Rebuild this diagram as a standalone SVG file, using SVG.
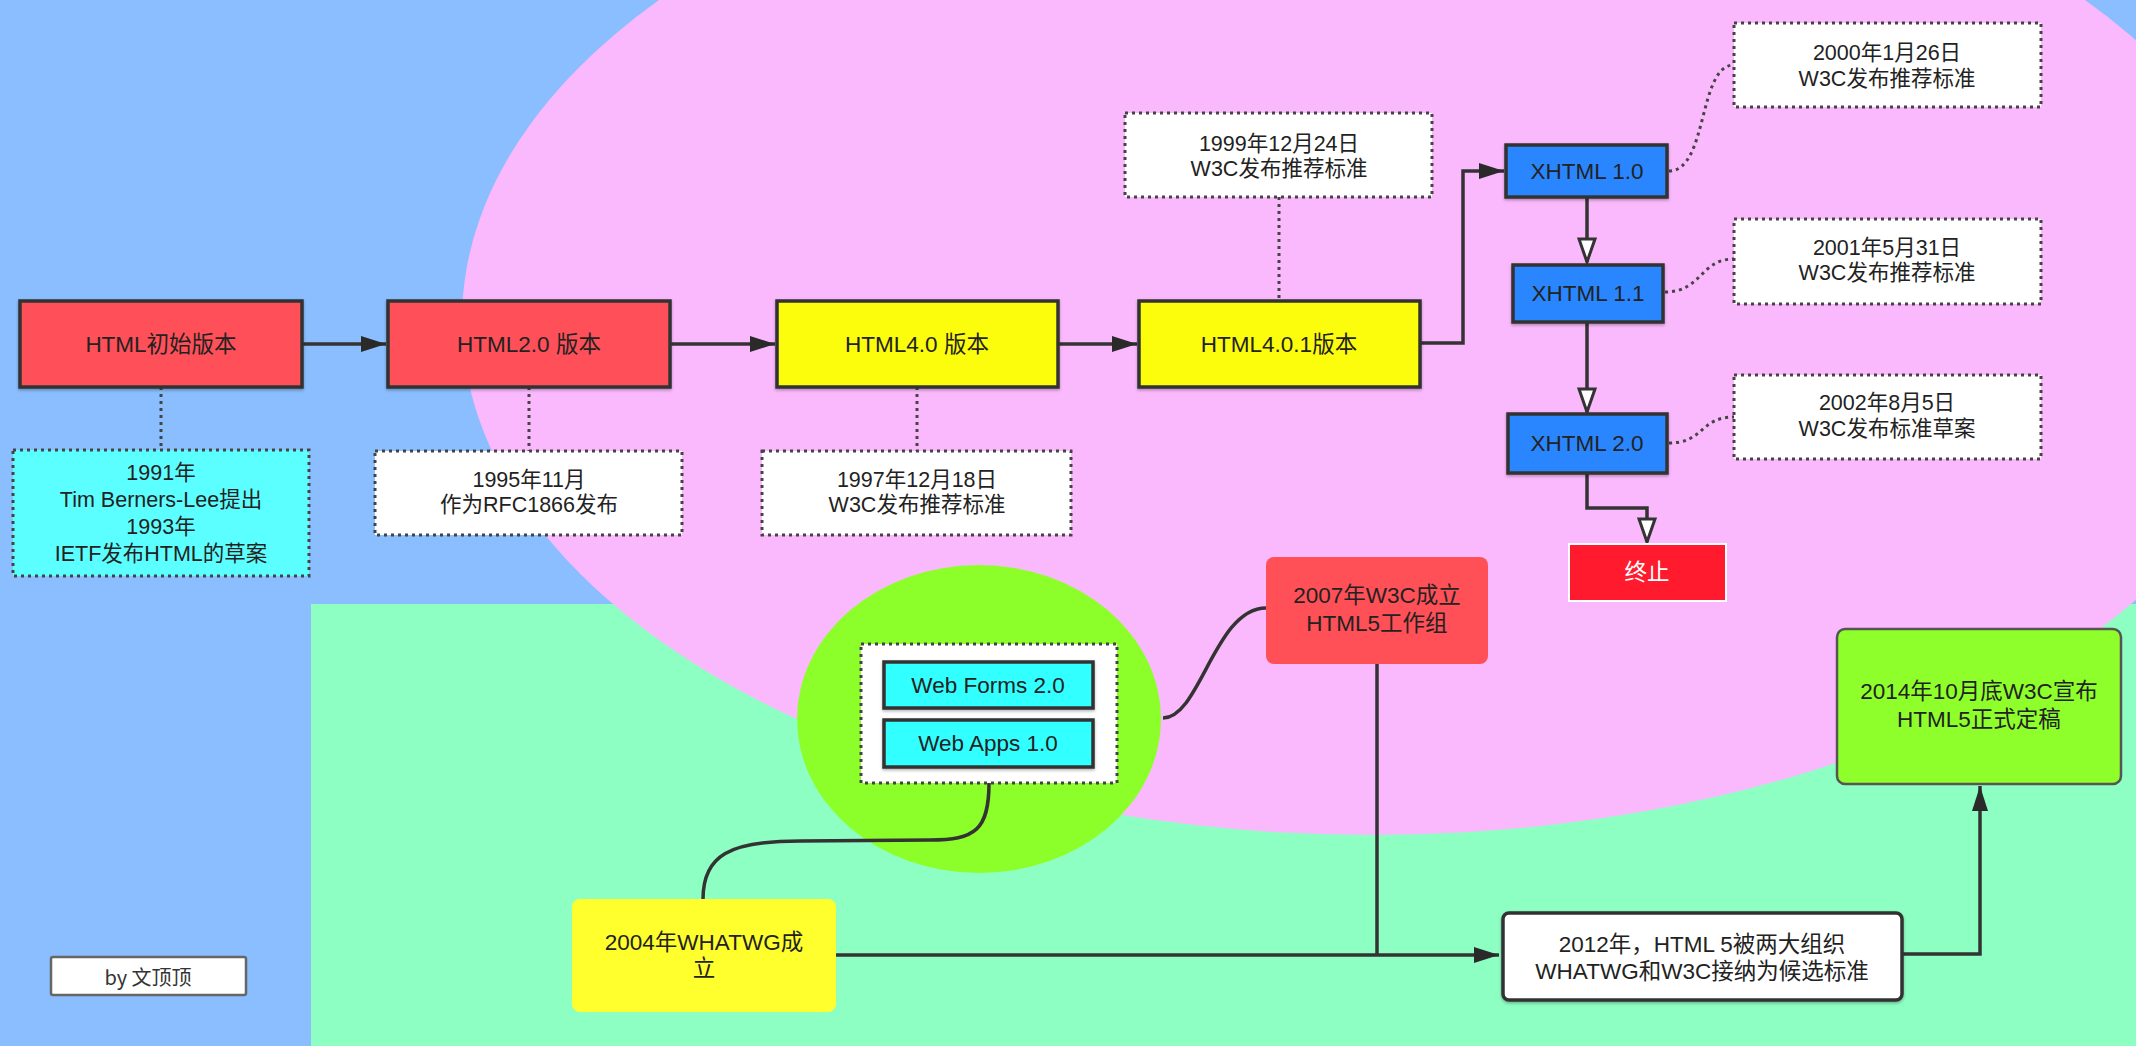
<svg xmlns="http://www.w3.org/2000/svg" width="2136" height="1046" viewBox="0 0 2136 1046">
<defs>
<style>
text{font-family:"Liberation Sans","Noto Sans CJK SC",sans-serif;fill:#222;text-anchor:middle;dominant-baseline:central}
.lbl{font-size:22.5px}
.note-t{font-size:21.5px}
.box{stroke:#333;stroke-width:3.5}
.note{fill:#fff;stroke:#444;stroke-width:3;stroke-dasharray:3 4}
.red{fill:#FF4F58}
.yel{fill:#FCFC0A}
.blu{fill:#2B86FF}
.cyan{fill:#33FFFF}
.conn{fill:none;stroke:#333;stroke-width:3.5}
.dot{fill:none;stroke:#444;stroke-width:3;stroke-dasharray:3 4}
</style>
<marker id="arr" markerUnits="userSpaceOnUse" markerWidth="26" markerHeight="18" refX="25" refY="9" orient="auto">
<path d="M0,1 L25,9 L0,17 z" fill="#2a2a2a"/>
</marker>
<marker id="hol" markerUnits="userSpaceOnUse" markerWidth="28" markerHeight="20" refX="25" refY="10" orient="auto">
<path d="M2,2 L25,10 L2,18 z" fill="#fff" stroke="#333" stroke-width="3"/>
</marker>
<filter id="sh" x="-10%" y="-10%" width="120%" height="130%">
<feDropShadow dx="0" dy="1.5" stdDeviation="1.5" flood-color="#000" flood-opacity="0.3"/>
</filter>
</defs>

<g id="background">
<rect x="0" y="0" width="2136" height="1046" fill="#8ABEFF"/>
<rect x="311" y="604" width="1825" height="442" fill="#8EFFC3"/>
<ellipse cx="1372" cy="320" rx="910" ry="515" fill="#FBB9FD"/>
</g>

<g id="connectors">
<path class="conn" d="M302,344 H386" marker-end="url(#arr)"/>
<path class="conn" d="M670,344 H775" marker-end="url(#arr)"/>
<path class="conn" d="M1058,344 H1137" marker-end="url(#arr)"/>
<path class="conn" d="M1420,343 H1463 V171 H1504" marker-end="url(#arr)"/>
<path class="conn" d="M1587,197 V262" marker-end="url(#hol)"/>
<path class="conn" d="M1587,322 V412" marker-end="url(#hol)"/>
<path class="conn" d="M1587,473 V508 H1647 V542" marker-end="url(#hol)"/>
<path class="dot" d="M161,387 V450"/>
<path class="dot" d="M529,387 V451"/>
<path class="dot" d="M917,387 V451"/>
<path class="dot" d="M1279,197 V301"/>
<path class="dot" d="M1669,171 C1708,171 1698,65 1734,65"/>
<path class="dot" d="M1665,292 C1702,292 1700,259 1734,259"/>
<path class="dot" d="M1669,443 C1704,443 1700,417 1734,417"/>
</g>

<g id="n-whatwg-group">
<ellipse cx="979" cy="719" rx="182" ry="154" fill="#8CFF2A"/>
</g>

<g id="connectors-bottom">
<path class="conn" d="M1163,718 C1200,718 1215,608 1266,608"/>
<path class="conn" d="M989,783 C989,830 975,840 930,840 L800,841 C730,841 703,855 703,899"/>
<path class="conn" d="M836,955 H1499" marker-end="url(#arr)"/>
<path class="conn" d="M1377,664 V955"/>
<path class="conn" d="M1902,954 H1980 V786" marker-end="url(#arr)"/>
</g>

<g id="n-html1">
<rect class="box red" x="20" y="301" width="282" height="86" filter="url(#sh)"/>
<text class="lbl" x="161" y="344">HTML初始版本</text>
</g>
<g id="n-html2">
<rect class="box red" x="388" y="301" width="282" height="86" filter="url(#sh)"/>
<text class="lbl" x="529" y="344">HTML2.0 版本</text>
</g>
<g id="n-html4">
<rect class="box yel" x="777" y="301" width="281" height="86" filter="url(#sh)"/>
<text class="lbl" x="917" y="344">HTML4.0 版本</text>
</g>
<g id="n-html401">
<rect class="box yel" x="1139" y="301" width="281" height="86" filter="url(#sh)"/>
<text class="lbl" x="1279" y="344">HTML4.0.1版本</text>
</g>
<g id="n-xhtml10">
<rect class="box blu" x="1506" y="145" width="161" height="52" filter="url(#sh)"/>
<text class="lbl" x="1587" y="171">XHTML 1.0</text>
</g>
<g id="n-xhtml11">
<rect class="box blu" x="1513" y="265" width="150" height="57" filter="url(#sh)"/>
<text class="lbl" x="1588" y="293">XHTML 1.1</text>
</g>
<g id="n-xhtml20">
<rect class="box blu" x="1508" y="414" width="159" height="59" filter="url(#sh)"/>
<text class="lbl" x="1587" y="443">XHTML 2.0</text>
</g>
<g id="n-end">
<rect x="1569" y="544" width="157" height="57" fill="#FF1A2D" stroke="#fff" stroke-width="2"/>
<text class="lbl" x="1647" y="572" style="fill:#fff">终止</text>
</g>

<g id="note-1991">
<rect class="note" x="13" y="450" width="296" height="126" style="fill:#5CFFFF"/>
<text class="note-t" x="161" y="473">1991年</text>
<text class="note-t" x="161" y="500">Tim Berners-Lee提出</text>
<text class="note-t" x="161" y="527">1993年</text>
<text class="note-t" x="161" y="554">IETF发布HTML的草案</text>
</g>
<g id="note-1995">
<rect class="note" x="375" y="451" width="307" height="84"/>
<text class="note-t" x="529" y="480">1995年11月</text>
<text class="note-t" x="529" y="505">作为RFC1866发布</text>
</g>
<g id="note-1997">
<rect class="note" x="762" y="451" width="309" height="84"/>
<text class="note-t" x="917" y="480">1997年12月18日</text>
<text class="note-t" x="917" y="505">W3C发布推荐标准</text>
</g>
<g id="note-1999">
<rect class="note" x="1125" y="113" width="307" height="84"/>
<text class="note-t" x="1279" y="144">1999年12月24日</text>
<text class="note-t" x="1279" y="169">W3C发布推荐标准</text>
</g>
<g id="note-2000">
<rect class="note" x="1734" y="23" width="307" height="84"/>
<text class="note-t" x="1887" y="53">2000年1月26日</text>
<text class="note-t" x="1887" y="79">W3C发布推荐标准</text>
</g>
<g id="note-2001">
<rect class="note" x="1734" y="219" width="307" height="85"/>
<text class="note-t" x="1887" y="248">2001年5月31日</text>
<text class="note-t" x="1887" y="273">W3C发布推荐标准</text>
</g>
<g id="note-2002">
<rect class="note" x="1734" y="375" width="307" height="84"/>
<text class="note-t" x="1887" y="403">2002年8月5日</text>
<text class="note-t" x="1887" y="429">W3C发布标准草案</text>
</g>

<g id="n-webgroup">
<rect class="note" x="861" y="644" width="256" height="139"/>
</g>
<g id="n-webforms">
<rect class="box cyan" x="884" y="662" width="209" height="46" filter="url(#sh)"/>
<text class="lbl" x="988" y="685">Web Forms 2.0</text>
</g>
<g id="n-webapps">
<rect class="box cyan" x="884" y="720" width="209" height="47" filter="url(#sh)"/>
<text class="lbl" x="988" y="743">Web Apps 1.0</text>
</g>
<g id="n-2007">
<rect x="1266" y="557" width="222" height="107" rx="8" fill="#FF5058"/>
<text class="lbl" x="1377" y="595">2007年W3C成立</text>
<text class="lbl" x="1377" y="623">HTML5工作组</text>
</g>
<g id="n-2004">
<rect x="572" y="899" width="264" height="113" rx="8" fill="#FFFF2E"/>
<text class="lbl" x="704" y="942">2004年WHATWG成</text>
<text class="lbl" x="704" y="968">立</text>
</g>
<g id="n-2012">
<rect x="1503" y="913" width="399" height="87" rx="6" fill="#fff" stroke="#333" stroke-width="3.5" filter="url(#sh)"/>
<text class="lbl" x="1702" y="944">2012年，HTML 5被两大组织</text>
<text class="lbl" x="1702" y="971">WHATWG和W3C接纳为候选标准</text>
</g>
<g id="n-2014">
<rect x="1837" y="629" width="284" height="155" rx="8" fill="#8EFF2A" stroke="#555" stroke-width="2.5"/>
<text class="lbl" x="1979" y="691">2014年10月底W3C宣布</text>
<text class="lbl" x="1979" y="719">HTML5正式定稿</text>
</g>
<g id="n-by">
<rect x="51" y="957" width="195" height="38" rx="2" fill="#fff" stroke="#666" stroke-width="2.5"/>
<text x="148" y="976" style="font-family:'Noto Sans CJK SC',sans-serif;font-size:20px;fill:#333">by 文顶顶</text>
</g>
</svg>
